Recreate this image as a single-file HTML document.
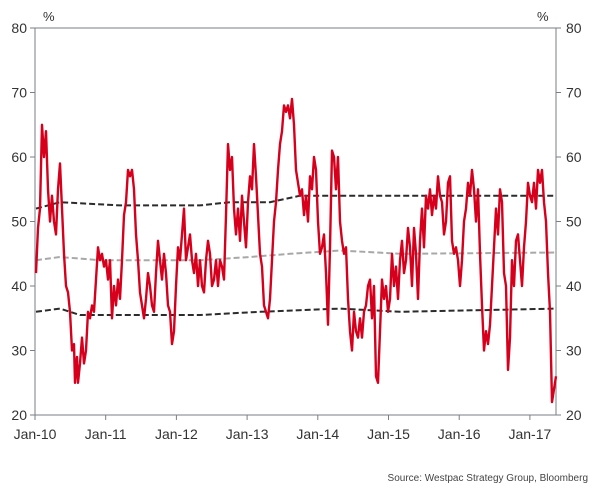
<!DOCTYPE html>
<html><head><meta charset="utf-8"><style>
body{margin:0;background:#fff;}
svg{display:block;font-family:"Liberation Sans",sans-serif;}
</style></head><body>
<svg id="s" width="606" height="491" viewBox="0 0 606 491">
<g stroke="#7a7f86" stroke-width="1" fill="none">
<line x1="35" y1="28" x2="556" y2="28"/>
<line x1="35" y1="28" x2="35" y2="415"/>
<line x1="556" y1="28" x2="556" y2="415"/>
<line x1="35" y1="415" x2="556" y2="415"/>
</g>
<g id="ticks" stroke="#7a7f86" stroke-width="1"></g>
<g id="labels" font-size="14" fill="#333"></g>
<text x="43" y="21" font-size="13" fill="#333">%</text>
<text x="537" y="21" font-size="13" fill="#333">%</text>
<text x="588" y="481" font-size="10" fill="#444" text-anchor="end">Source: Westpac Strategy Group, Bloomberg</text>
<path id="up" fill="none" stroke="#2b2b2b" stroke-width="2" stroke-dasharray="6,3"/>
<path id="mid" fill="none" stroke="#a8a8a8" stroke-width="2" stroke-dasharray="6,3"/>
<path id="lo" fill="none" stroke="#2b2b2b" stroke-width="2" stroke-dasharray="6,3"/>
<path id="red" fill="none" stroke="#d6001c" stroke-width="2.4" stroke-linejoin="round"/>
</svg>
<script>
function Y(v){return 28+(80-v)*6.45;}
var t=document.getElementById('ticks'),L=document.getElementById('labels'),ns='http://www.w3.org/2000/svg';
function el(p,n,a,txt){var e=document.createElementNS(ns,n);for(var k in a)e.setAttribute(k,a[k]);if(txt)e.textContent=txt;p.appendChild(e);}
for(var v=20;v<=80;v+=10){var y=Y(v);
el(t,'line',{x1:30,y1:y,x2:35,y2:y});el(t,'line',{x1:556,y1:y,x2:561,y2:y});
el(L,'text',{x:27,y:y+5,'text-anchor':'end'},v);el(L,'text',{x:566,y:y+5},v);}
var yrs=['Jan-10','Jan-11','Jan-12','Jan-13','Jan-14','Jan-15','Jan-16','Jan-17'];
for(var i=0;i<8;i++){var x=35+i*70.7;el(t,'line',{x1:x,y1:415,x2:x,y2:420});
el(L,'text',{x:x,y:439,'text-anchor':'middle'},yrs[i]);}
var r=[36,42,38,49,40,52,42,65,44,60,46,64,48,55,50,50,52,54,54,50,56,48,58,55,60,59,62,52,64,45,66,40,68,39,70,36,72,30,74,31,75,25,77,29,78,25,80,28,82,32,84,28,86,30,88,36,90,35,92,37,94,36,96,41,98,46,100,44,102,45,104,43,106,44,108,41,110,44,112,35,114,40,116,37,118,41,120,38,122,44,124,51,126,53,128,58,130,57,132,58,134,55,136,48,138,44,140,39,142,37,144,35,146,38,148,42,150,40,152,37,154,36,156,42,158,47,160,44,162,41,164,45,166,42,168,37,170,36,172,31,174,33,176,40,178,46,180,44,182,48,184,52,186,44,188,46,190,48,192,44,194,42,196,45,198,40,200,44,202,40,204,39,206,44,208,47,210,45,212,40,214,41,216,44,218,40,220,44,222,43,224,41,226,51,228,62,230,58,232,60,234,52,236,48,238,52,240,47,242,54,244,50,246,46,248,53,250,57,252,55,254,62,256,57,258,51,260,45,262,43,264,37,266,36,268,35,270,38,272,44,274,50,276,53,278,58,280,62,282,64,284,68,286,67,288,68,290,66,292,69,294,65,296,58,298,56,300,54,302,55,304,51,306,54,308,50,310,57,312,55,314,60,316,58,318,50,320,45,322,46,324,48,326,42,328,34,330,46,332,61,334,60,336,55,338,60,340,50,342,47,344,45,346,46,348,38,350,33,352,30,354,36,356,33,358,32,360,35,362,32,364,36,366,37,368,40,370,41,372,35,374,40,376,26,378,25,380,33,382,41,384,38,386,40,388,36,390,38,392,45,394,40,396,43,398,38,400,44,402,47,404,42,406,44,408,49,410,46,412,40,414,49,416,45,418,38,420,47,422,52,424,46,426,54,428,52,430,55,432,51,434,54,436,52,438,57,440,54,442,53,444,48,446,50,448,56,450,57,452,47,454,45,456,46,458,44,460,40,462,44,464,50,466,52,468,56,470,54,472,58,474,55,476,50,478,55,480,45,482,37,484,30,486,33,488,31,490,34,492,40,494,46,496,52,498,48,500,55,502,53,504,42,506,40,508,27,510,32,512,44,514,40,516,47,518,48,520,44,522,40,524,46,526,50,528,56,530,54,532,53,534,56,536,52,538,58,540,56,542,58,544,53,546,50,548,42,550,36,552,22,554,24,556,26];
function P(a){var d='';for(var i=0;i<a.length;i+=2)d+=(i?'L':'M')+a[i]+','+Y(a[i+1]).toFixed(1);return d;}
document.getElementById('red').setAttribute('d',P(r));
document.getElementById('up').setAttribute('d',P([36,52,60,53,120,52.5,200,52.5,230,53,270,53,300,54,350,54,420,54,556,54]));
document.getElementById('mid').setAttribute('d',P([36,44,60,44.5,100,44,200,44,250,44.5,290,45,340,45.5,400,45,556,45.2]));
document.getElementById('lo').setAttribute('d',P([36,36,60,36.5,80,35.5,200,35.5,260,36,340,36.5,400,36,556,36.5]));
</script>
</body></html>
